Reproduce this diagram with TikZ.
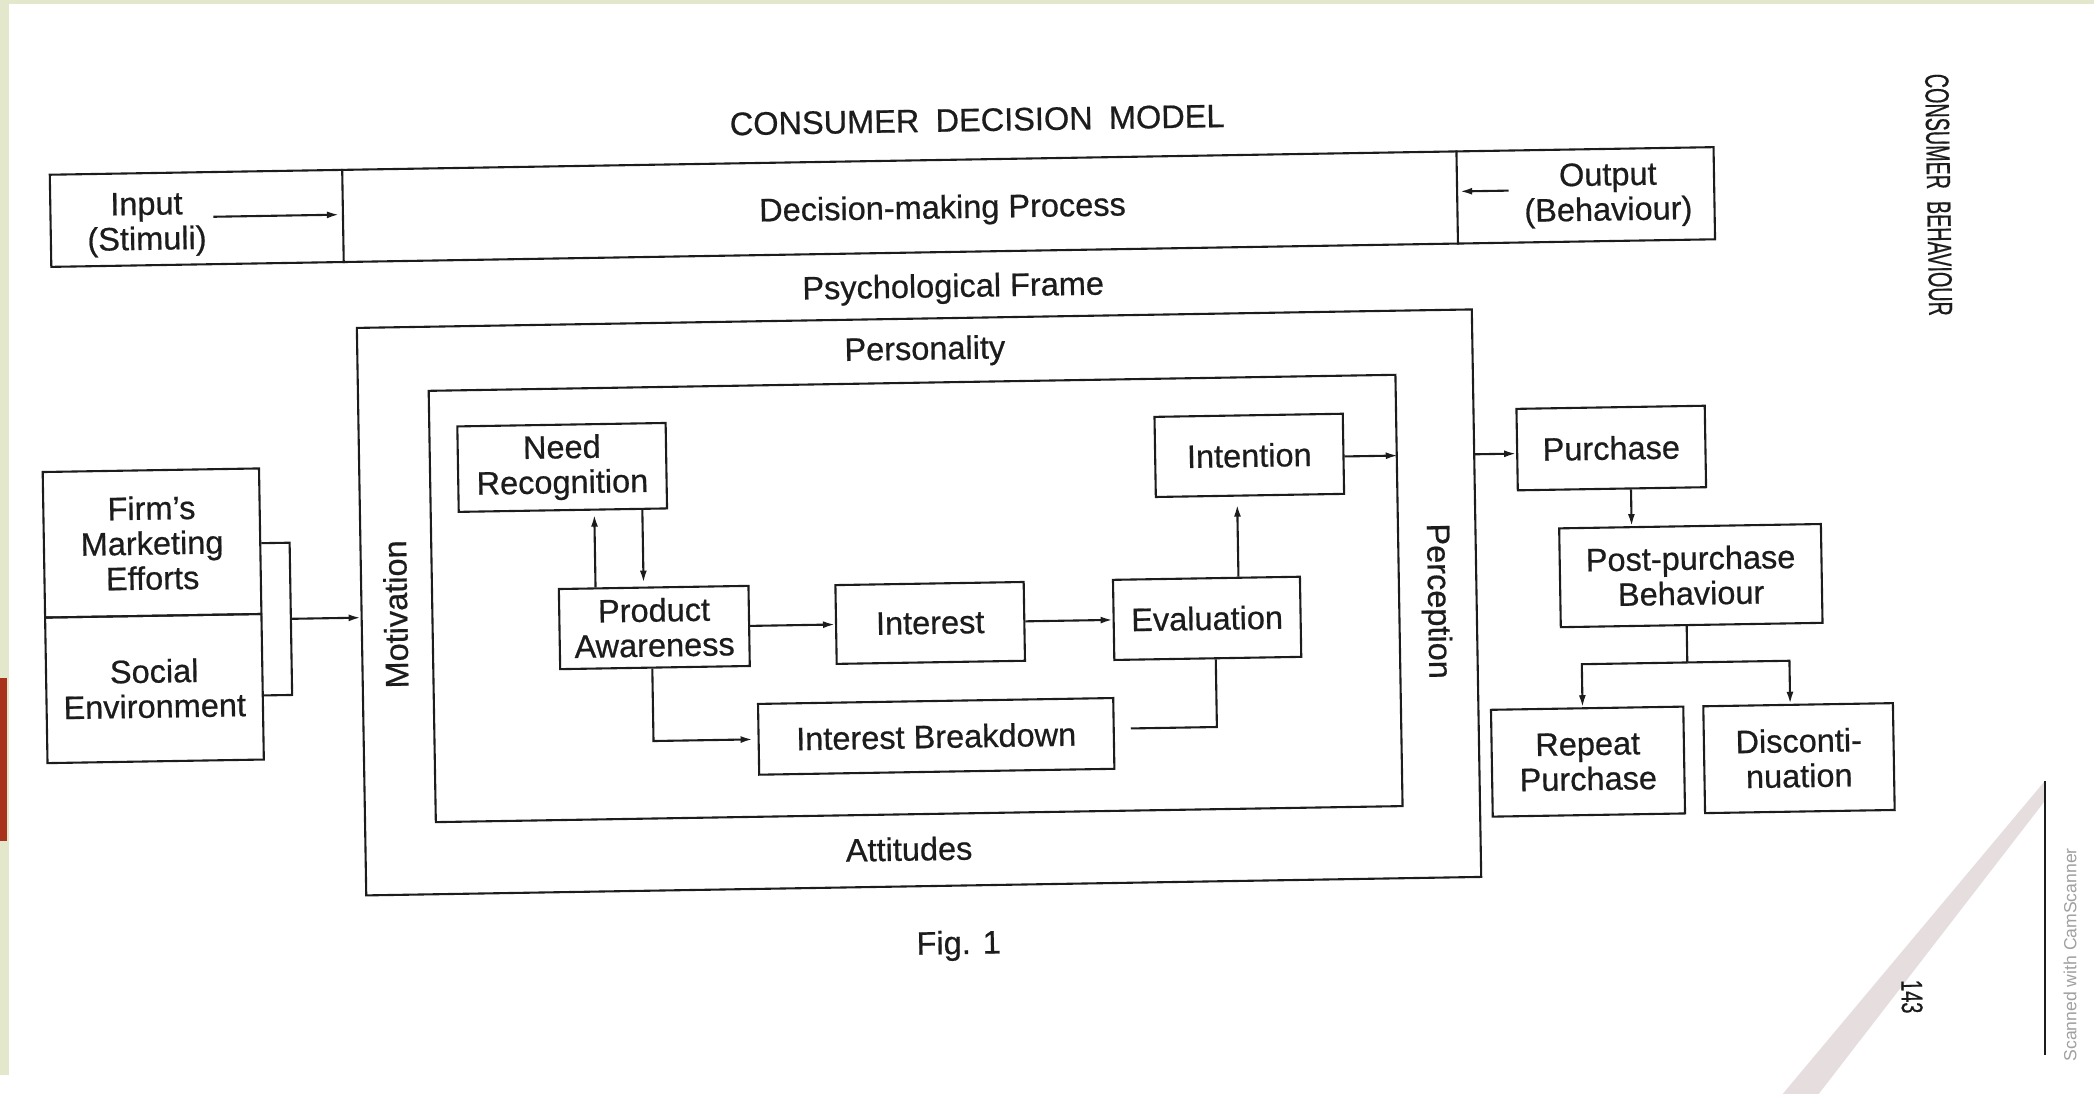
\documentclass[tikz,border=0pt]{standalone}
\usepackage{fontspec}
\setmainfont{Liberation Sans}[BoldFont={Liberation Sans},BoldFeatures={FakeBold=0.6}]
\usetikzlibrary{arrows.meta,calc}
\newcommand\sk{1.3355pt}
\definecolor{ink}{HTML}{1C1C1C}
\definecolor{sidegreen}{HTML}{E3E8CC}
\definecolor{sidered}{HTML}{A8321C}
\definecolor{foldc}{HTML}{E6DDDF}
\definecolor{wm}{HTML}{A0A0A0}
\begin{document}
\begin{tikzpicture}[x=1.3355pt,y=-1.3355pt,
  every node/.style={font=\fontsize{32.5}{35}\selectfont\bfseries, inner sep=0pt, text=ink},
  box/.style={draw=ink, line width=2.1pt, align=center},
  ln/.style={draw=ink, line width=2.1pt},
  arr/.style={draw=ink, line width=2.1pt, -{Latex[length=12pt,width=7pt]}},
  lbl/.style={align=center}
]
\useasboundingbox (0,0) rectangle (1568,819);
\fill[white] (0,0) rectangle (1568,819);
\fill[sidegreen] (0,0) rectangle (7,805);
\fill[sidegreen] (0,0) rectangle (1568,3);
\fill[sidered] (0,508) rectangle (5,630);
\fill[foldc] (1531,585) -- (1531,600) -- (1362,819) -- (1335,819) -- cycle;
\draw[line width=2pt, ink] (1531,585) -- (1531,790);

\begin{scope}[rotate around={0.95:(784,410)}, transform shape]
% title and top band
\node (title) at (737,89) {CONSUMER\hspace{0.5em}DECISION\hspace{0.5em}MODEL};
\node[box, minimum width=1246*\sk, minimum height=69*\sk] (band) at (665,153) {};
\coordinate (d1) at (261,0);
\coordinate (d2) at (1095.5,0);
\draw[ln] (band.north -| d1) -- (band.south -| d1);
\draw[ln] (band.north -| d2) -- (band.south -| d2);
\node[lbl] (inp) at (114,157) {Input\\(Stimuli)};
\node (dmp) at (710,156) {Decision-making Process};
\node[lbl] (outp) at (1208.5,153) {Output\\(Behaviour)};
\coordinate (ia) at (164,152);
\draw[arr, shorten >=4pt] (ia) -- (ia -| d1);
\coordinate (oa) at (1134,148.5);
\draw[arr, shorten >=3pt] (oa) -- (oa -| d2);

% frames
\node (pf) at (717,215) {Psychological Frame};
\node[box, minimum width=835*\sk, minimum height=425*\sk] (outer) at (687.5,449.5) {};
\node (pers) at (695,261.5) {Personality};
\node (att) at (677,634) {Attitudes};
\node[rotate=90] (mot) at (295.5,452) {Motivation};
\node[rotate=-90] (perc) at (1075,455) {Perception};
\node[box, minimum width=724*\sk, minimum height=323*\sk] (inner) at (685,446.5) {};

% inner boxes
\node[box, minimum width=156*\sk, minimum height=64*\sk] (nr) at (422,344) {Need\\Recognition};
\node[box, minimum width=142*\sk, minimum height=60*\sk] (pa) at (489,465) {Product\\Awareness};
\node[box, minimum width=141*\sk, minimum height=59*\sk] (int) at (695.6,465) {Interest};
\node[box, minimum width=140*\sk, minimum height=60*\sk] (eva) at (903,465) {Evaluation};
\node[box, minimum width=141*\sk, minimum height=60*\sk] (itn) at (936.6,343.5) {Intention};
\node[box, minimum width=266*\sk, minimum height=53*\sk] (ib) at (698.7,550) {Interest Breakdown};

\coordinate (xa) at (445.5,0);
\coordinate (xb) at (481.5,0);
\draw[arr, shorten >=4pt] (pa.north -| xa) -- (nr.south -| xa);
\draw[arr, shorten >=4pt] (nr.south -| xb) -- (pa.north -| xb);
\draw[arr] (pa.east) -- (int.west);
\draw[arr] (int.east) -- (eva.west);
\coordinate (xc) at (927,0);
\draw[arr, shorten >=8pt] (eva.north -| xc) -- (itn.south -| xc);
\coordinate (xd) at (487,0);
\draw[arr, shorten >=5pt] (pa.south -| xd) |- (ib.west);
\coordinate (xe) at (909,0);
\draw[ln] ([shift={(12,-3.5)}]ib.east) -| (eva.south -| xe);
\coordinate (yo) at (0,345.5);
\draw[arr] (itn.east |- yo) -- (inner.east |- yo);

% left inputs
\node[box, minimum width=162*\sk, minimum height=109*\sk] (fme) at (114,395.5) {Firm’s\\Marketing\\Efforts};
\node[box, minimum width=162*\sk, minimum height=109*\sk] (se) at (114,504.5) {Social\\Environment};
\coordinate (brk) at (217,454);
\draw[ln] ([yshift=-2pt]fme.east) -| (brk) |- ([yshift=-8.7pt]se.east);
\draw[arr] (brk) -- (brk -| outer.west);

% right outputs
\node[box, minimum width=141*\sk, minimum height=61*\sk] (pur) at (1207.7,342.5) {Purchase};
\draw[arr] (outer.east |- yo) -- (pur.west |- yo);
\node[box, minimum width=196*\sk, minimum height=74*\sk] (ppb) at (1265.7,439) {Post-purchase\\Behaviour};
\coordinate (xf) at (1222,0);
\draw[arr] (pur.south -| xf) -- (ppb.north -| xf);
\node[box, minimum width=144*\sk, minimum height=80*\sk] (rp) at (1186.4,577) {Repeat\\Purchase};
\node[box, minimum width=142*\sk, minimum height=80*\sk] (dis) at (1344.4,577) {Disconti-\\nuation};
\coordinate (jn) at (1262,504);
\draw[ln] (ppb.south -| jn) -- (jn);
\coordinate (xg) at (1183,0);
\coordinate (xh) at (1338.5,0);
\draw[arr] (jn) -| (rp.north -| xg);
\draw[arr] (jn) -| (dis.north -| xh);

% captions
\node (fig) at (713,707) {Fig. 1};
\node[rotate=-90] (cb) at (1456,157) {\fontsize{33.5}{36}\selectfont\scalebox{0.59}[1]{CONSUMER\hspace{0.6em}BEHAVIOUR}};
\node[rotate=-90] (pg) at (1426,757) {\fontsize{30}{32}\selectfont\scalebox{0.67}[1]{143}};
\end{scope}

\node[rotate=90, text=wm, font=\fontsize{17.6}{20}\selectfont] (cs) at (1550,715) {Scanned with CamScanner};
\end{tikzpicture}
\end{document}
